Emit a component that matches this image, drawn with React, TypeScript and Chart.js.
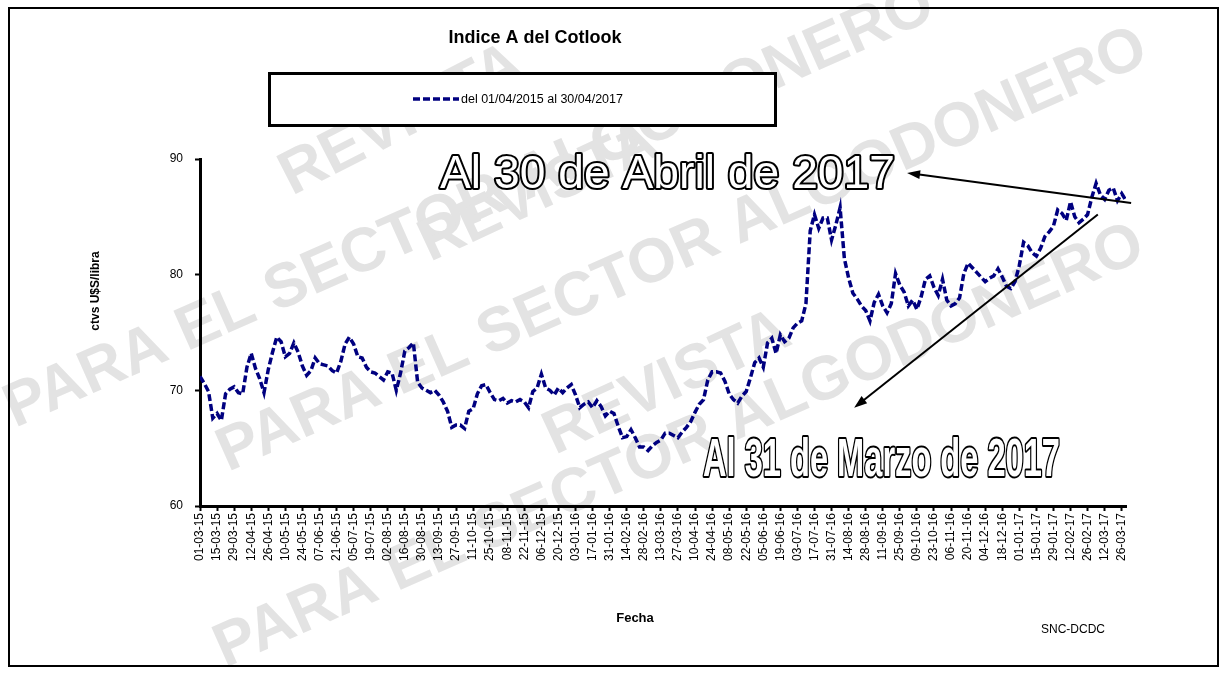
import React, { useEffect, useRef } from "react";
import { Chart, registerables } from "chart.js";

Chart.register(...registerables);

// ---------- data ----------
const TITLE = "Indice A del Cotlook";
const SERIES_LABEL = "del 01/04/2015 al 30/04/2017";
const Y_TITLE = "ctvs U$S/libra";
const X_TITLE = "Fecha";
const SOURCE = "SNC-DCDC";
const NOTE_TOP = "Al 30 de Abril de 2017";
const NOTE_BOTTOM = "Al 31 de Marzo de 2017";
const WATERMARK_A = "REVISTA";
const WATERMARK_B = "PARA EL SECTOR ALGODONERO";

const tickLabels = [
  "01-03-15", "15-03-15", "29-03-15", "12-04-15", "26-04-15", "10-05-15", "24-05-15",
  "07-06-15", "21-06-15", "05-07-15", "19-07-15", "02-08-15", "16-08-15", "30-08-15",
  "13-09-15", "27-09-15", "11-10-15", "25-10-15", "08-11-15", "22-11-15", "06-12-15",
  "20-12-15", "03-01-16", "17-01-16", "31-01-16", "14-02-16", "28-02-16", "13-03-16",
  "27-03-16", "10-04-16", "24-04-16", "08-05-16", "22-05-16", "05-06-16", "19-06-16",
  "03-07-16", "17-07-16", "31-07-16", "14-08-16", "28-08-16", "11-09-16", "25-09-16",
  "09-10-16", "23-10-16", "06-11-16", "20-11-16", "04-12-16", "18-12-16", "01-01-17",
  "15-01-17", "29-01-17", "12-02-17", "26-02-17", "12-03-17", "26-03-17",
];

// points per tick interval (two weeks)
const POINTS_PER_TICK = 4;

// Cotlook A index, ctvs U$S/libra (sampled ~every 3.5 days)
const cotlook2015a = [
  71.2, 70.6, 69.9, 67.6, 68.0, 67.4, 69.7, 70.1, 70.3, 69.8, 69.7, 72.0, 73.2, 71.9,
  71.0, 69.8, 71.8, 73.3, 74.6, 74.2, 72.9, 73.2, 74.1, 73.3, 72.1, 71.3, 71.7, 72.8,
  72.3, 72.2, 72.1, 71.7, 71.5, 72.5, 74.0, 74.6, 74.0, 72.9, 72.8, 72.0, 71.6, 71.5,
  71.2, 70.9, 71.6, 71.5, 70.0, 71.5, 73.4, 73.7, 74.1, 70.7, 70.2, 70.0, 69.8, 70.0,
];
const cotlook2015b = [
  69.6, 69.0, 68.2, 66.8, 67.0, 67.0, 66.7, 68.2, 68.4, 69.7, 70.4, 70.5, 69.8, 69.2,
  69.1, 69.3, 68.9, 69.1, 69.0, 69.2, 69.0, 68.5, 69.9, 70.2, 71.4, 70.2, 70.0, 69.6,
  70.2, 69.8, 70.2, 70.5, 69.6, 68.5, 68.8, 69.0, 68.5, 69.1, 68.6, 67.8, 68.2, 68.0,
];
const cotlook2016a = [
  66.9, 65.9, 66.0, 66.6, 65.9, 65.1, 65.1, 64.8, 65.2, 65.5, 65.7, 66.3, 66.3, 66.1,
  65.9, 66.4, 66.8, 67.3, 68.1, 68.8, 69.2, 70.9, 71.6, 71.6, 71.5, 70.8, 69.7, 69.2,
  68.9, 69.5, 69.9, 71.1, 72.4, 72.8, 72.0, 74.1, 74.5, 73.2, 74.8, 74.2, 74.5, 75.4,
  75.8, 76.0, 77.5, 83.8, 85.2, 84.0, 84.9, 84.9, 83.0, 84.3, 85.8, 81.4,
];
const cotlook2016b = [
  79.7, 78.4, 77.9, 77.3, 76.9, 76.0, 77.6, 78.3, 77.3, 76.7, 77.5, 80.1, 79.1, 78.5,
  77.3, 77.8, 77.0, 78.1, 79.6, 79.9, 78.9, 78.2, 79.6, 77.8, 77.3, 77.5, 78.0, 80.1,
  81.0, 80.6, 80.2, 79.8, 79.4, 79.7, 79.9, 80.5, 79.8,
];
const cotlook2017 = [
  79.0, 78.8, 79.4, 80.8, 82.8, 82.5, 81.9, 81.6, 82.3, 83.3, 83.7, 84.2, 85.6, 85.3,
  84.7, 86.3, 85.0, 84.5, 84.8, 85.2, 86.7, 87.9, 86.9, 86.5, 87.3, 87.5, 86.4, 87.0,
  86.4,
];
const cotlookIndex = [
  ...cotlook2015a, ...cotlook2015b, ...cotlook2016a, ...cotlook2016b, ...cotlook2017,
];

const Y_MIN = 60;
const Y_MAX = 90;
const Y_STEP = 10;

// ---------- styling ----------
const FONT = "'Liberation Sans', Arial, Helvetica, sans-serif";
const LINE_COLOR = "#000080";

const watermarks = [
  { text: WATERMARK_A, x: 292, y: 196, angle: -27, size: 62 },
  { text: WATERMARK_B, x: 15, y: 428, angle: -24, size: 62 },
  { text: WATERMARK_A, x: 430, y: 262, angle: -25, size: 60 },
  { text: WATERMARK_B, x: 228, y: 472, angle: -24, size: 62 },
  { text: WATERMARK_A, x: 555, y: 455, angle: -25, size: 62 },
  { text: WATERMARK_B, x: 225, y: 668, angle: -24, size: 62 },
];

function drawArrow(ctx: CanvasRenderingContext2D, x1: number, y1: number, x2: number, y2: number) {
  const ang = Math.atan2(y2 - y1, x2 - x1);
  const head = 13;
  const hw = 4.5;
  ctx.beginPath();
  ctx.moveTo(x1, y1);
  ctx.lineTo(x2 - Math.cos(ang) * head * 0.8, y2 - Math.sin(ang) * head * 0.8);
  ctx.stroke();
  ctx.beginPath();
  ctx.moveTo(x2, y2);
  ctx.lineTo(x2 - Math.cos(ang) * head - Math.sin(ang) * hw, y2 - Math.sin(ang) * head + Math.cos(ang) * hw);
  ctx.lineTo(x2 - Math.cos(ang) * head + Math.sin(ang) * hw, y2 - Math.sin(ang) * head - Math.cos(ang) * hw);
  ctx.closePath();
  ctx.fill();
}

function outlinedText(
  ctx: CanvasRenderingContext2D,
  text: string,
  x: number,
  baseline: number,
  font: string,
  targetWidth: number,
  strokeW: number
) {
  ctx.save();
  ctx.font = font;
  ctx.textAlign = "left";
  ctx.textBaseline = "alphabetic";
  const w = ctx.measureText(text).width;
  ctx.translate(x, baseline);
  ctx.scale(targetWidth / w, 1);
  ctx.lineJoin = "round";
  ctx.lineWidth = strokeW;
  ctx.strokeStyle = "#000";
  ctx.strokeText(text, 0, 0);
  ctx.fillStyle = "#fff";
  ctx.fillText(text, 0, 0);
  ctx.restore();
}

export default function App() {
  const ref = useRef<HTMLCanvasElement>(null);

  useEffect(() => {
    const canvas = ref.current;
    if (!canvas) return;
    const xMax = cotlookIndex.length - 1;

    const background = {
      id: "background",
      beforeDraw(chart: any) {
        const ctx: CanvasRenderingContext2D = chart.ctx;
        ctx.save();
        ctx.fillStyle = "#fff";
        ctx.fillRect(0, 0, chart.width, chart.height);
        ctx.fillStyle = "#e3e3e3";
        ctx.textAlign = "left";
        ctx.textBaseline = "alphabetic";
        for (const w of watermarks) {
          ctx.save();
          ctx.translate(w.x, w.y);
          ctx.rotate((w.angle * Math.PI) / 180);
          ctx.font = `bold ${w.size}px ${FONT}`;
          ctx.fillText(w.text, 0, 0);
          ctx.restore();
        }
        ctx.restore();
      },
    };

    const overlay = {
      id: "overlay",
      afterDraw(chart: any) {
        const ctx: CanvasRenderingContext2D = chart.ctx;
        const xs = chart.scales.x;
        const ys = chart.scales.y;
        ctx.save();

        // title
        ctx.fillStyle = "#000";
        ctx.textAlign = "center";
        ctx.textBaseline = "alphabetic";
        ctx.font = `bold 18px ${FONT}`;
        ctx.fillText(TITLE, 535, 43);

        // legend box
        ctx.fillStyle = "#fff";
        ctx.fillRect(269.5, 73.5, 506, 52);
        ctx.lineWidth = 3;
        ctx.strokeStyle = "#000";
        ctx.strokeRect(269.5, 73.5, 506, 52);
        ctx.beginPath();
        ctx.setLineDash([7, 3]);
        ctx.lineWidth = 3.5;
        ctx.strokeStyle = LINE_COLOR;
        ctx.moveTo(413, 99);
        ctx.lineTo(459, 99);
        ctx.stroke();
        ctx.setLineDash([]);
        ctx.fillStyle = "#000";
        ctx.textAlign = "left";
        ctx.font = `12.5px ${FONT}`;
        ctx.fillText(SERIES_LABEL, 461, 103);

        // axis titles
        ctx.save();
        ctx.translate(99, 291);
        ctx.rotate(-Math.PI / 2);
        ctx.textAlign = "center";
        ctx.font = `bold 12px ${FONT}`;
        ctx.fillText(Y_TITLE, 0, 0);
        ctx.restore();

        ctx.textAlign = "center";
        ctx.font = `bold 13px ${FONT}`;
        ctx.fillText(X_TITLE, 635, 622);
        ctx.font = `12px ${FONT}`;
        ctx.fillText(SOURCE, 1073, 633);

        // annotations
        outlinedText(ctx, NOTE_TOP, 440, 188, `46px ${FONT}`, 455, 4);
        outlinedText(ctx, NOTE_BOTTOM, 703, 476, `bold 54px ${FONT}`, 357, 4);

        ctx.strokeStyle = "#000";
        ctx.fillStyle = "#000";
        ctx.lineWidth = 2;
        drawArrow(
          ctx,
          xs.getPixelForValue(218.2), ys.getPixelForValue(86.2),
          xs.getPixelForValue(165.7), ys.getPixelForValue(88.8)
        );
        drawArrow(
          ctx,
          xs.getPixelForValue(210.4), ys.getPixelForValue(85.2),
          xs.getPixelForValue(153.3), ys.getPixelForValue(68.5)
        );

        // frame
        ctx.lineWidth = 2;
        ctx.strokeStyle = "#000";
        ctx.strokeRect(9, 8, 1209, 658);
        ctx.restore();
      },
    };

    const chart = new Chart(canvas, {
      type: "line",
      data: {
        datasets: [
          {
            label: SERIES_LABEL,
            data: cotlookIndex.map((v, i) => ({ x: i, y: v })),
            borderColor: LINE_COLOR,
            backgroundColor: LINE_COLOR,
            borderWidth: 3.5,
            borderDash: [7, 3],
            pointRadius: 0,
            fill: false,
            tension: 0,
          },
        ],
      },
      options: {
        responsive: false,
        animation: false,
        devicePixelRatio: 1,
        layout: { padding: { left: 0, top: 159, right: 100, bottom: 0 } },
        plugins: {
          legend: { display: false },
          title: { display: false },
          tooltip: { enabled: false },
        },
        scales: {
          x: {
            type: "linear",
            min: 0,
            max: xMax,
            afterFit: (s: any) => {
              s.height = 169;
            },
            border: { display: true, color: "#000", width: 3 },
            grid: {
              display: true,
              drawOnChartArea: false,
              drawTicks: true,
              tickLength: 5,
              tickWidth: 2,
              tickColor: "#000",
            },
            ticks: {
              stepSize: POINTS_PER_TICK,
              maxTicksLimit: 200,
              autoSkip: false,
              includeBounds: false,
              minRotation: 90,
              maxRotation: 90,
              padding: 2,
              color: "#000",
              font: { family: FONT, size: 12 },
              callback: (v: any) => tickLabels[Math.round(Number(v) / POINTS_PER_TICK)] ?? "",
            },
          },
          y: {
            min: Y_MIN,
            max: Y_MAX,
            afterFit: (s: any) => {
              s.width = 200;
            },
            border: { display: true, color: "#000", width: 3 },
            grid: {
              display: true,
              drawOnChartArea: false,
              drawTicks: true,
              tickLength: 5,
              tickWidth: 2,
              tickColor: "#000",
            },
            ticks: {
              stepSize: Y_STEP,
              padding: 12,
              color: "#000",
              font: { family: FONT, size: 12 },
            },
          },
        },
      },
      plugins: [background, overlay],
    } as any);

    return () => chart.destroy();
  }, []);

  return (
    <div style={{ position: "absolute", left: 0, top: 0, width: 1226, height: 675, background: "#fff" }}>
      <canvas ref={ref} width={1226} height={675} style={{ display: "block" }} />
    </div>
  );
}
